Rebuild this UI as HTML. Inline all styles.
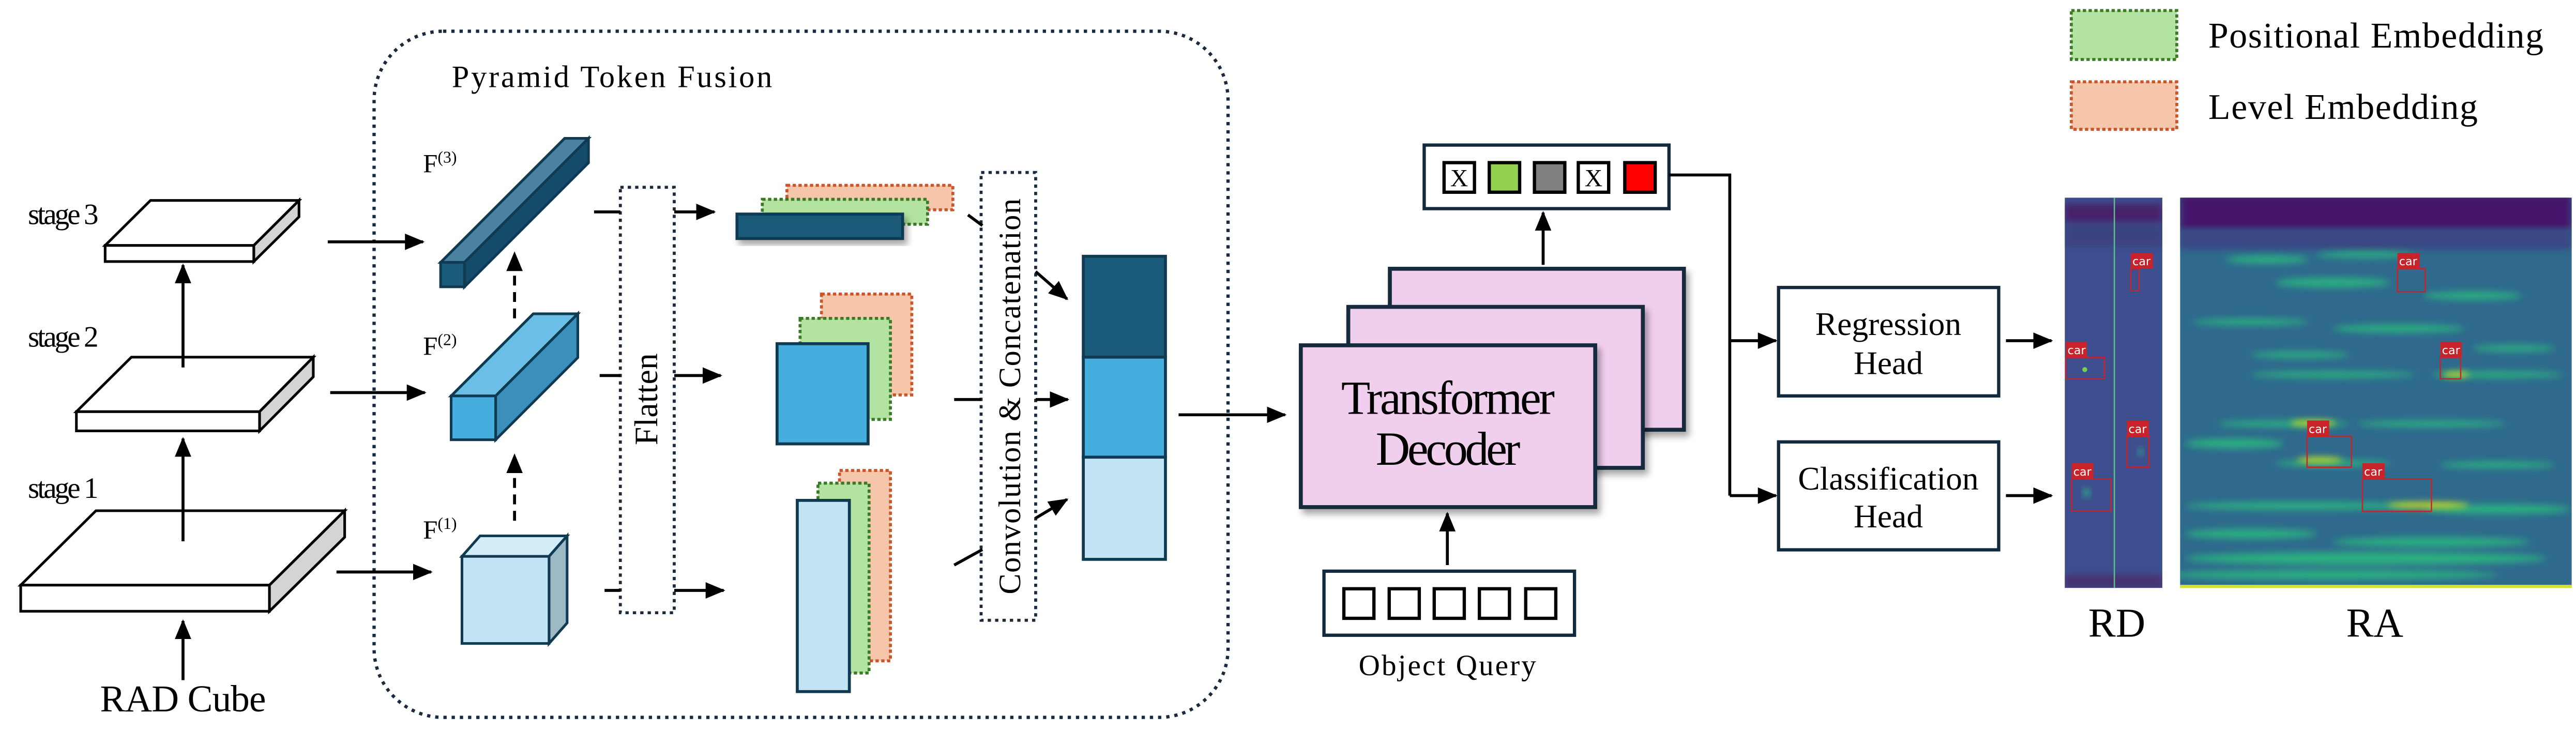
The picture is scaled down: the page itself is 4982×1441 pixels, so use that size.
<!DOCTYPE html>
<html><head><meta charset="utf-8"><style>
html,body{margin:0;padding:0;background:#fff;}
svg{display:block;}
</style></head><body>
<svg width="4982" height="1441" viewBox="0 0 1568 453.5" xmlns="http://www.w3.org/2000/svg" font-family="Liberation Serif, DejaVu Serif, serif">
<defs>
<marker id="ah" markerUnits="userSpaceOnUse" markerWidth="12" markerHeight="10" refX="11" refY="5" orient="auto">
<path d="M0,0 L12,5 L0,10 Z" fill="#000"/></marker>
<filter id="sh" x="-20%" y="-20%" width="150%" height="150%"><feDropShadow dx="2" dy="3" stdDeviation="2" flood-color="#000" flood-opacity="0.35"/></filter>
<filter id="bl" x="-20%" y="-50%" width="140%" height="200%"><feGaussianBlur stdDeviation="2"/></filter>
<clipPath id="raC"><rect x="1327" y="120.3" width="238.4" height="237.6"/></clipPath>
<clipPath id="rdC"><rect x="1256.8" y="120.3" width="59.4" height="237.6"/></clipPath>
</defs>

<rect x="227.7" y="19" width="519.8" height="417.7" rx="42" fill="none" stroke="#1a2a3a" stroke-width="2" stroke-dasharray="2,3"/>
<text x="275" y="53" font-size="19" textLength="195" font-family="Liberation Serif, DejaVu Serif, serif">Pyramid Token Fusion</text>

<g stroke="#000" stroke-width="1.6">
<polygon points="91.6,122 182,122 154.5,149.4 64,149.4" fill="#fff"/>
<rect x="64" y="149.4" width="90.5" height="9.8" fill="#fff"/>
<polygon points="154.5,149.4 182,122 182,132 154.5,159.2" fill="#d4d4d4"/>
<polygon points="80,217.4 190.7,217.4 158,250.6 46.5,250.6" fill="#fff"/>
<rect x="46.5" y="250.6" width="111.5" height="11.7" fill="#fff"/>
<polygon points="158,250.6 190.7,217.4 190.7,229.4 158,262.3" fill="#d4d4d4"/>
<polygon points="58.4,310.9 209.8,310.9 164,356.2 12.6,356.2" fill="#fff"/>
<rect x="12.6" y="356.2" width="151.4" height="15.9" fill="#fff"/>
<polygon points="164,356.2 209.8,310.9 209.8,327 164,372.1" fill="#d4d4d4"/>
</g>
<g font-family="Liberation Serif, DejaVu Serif, serif">
<text x="17" y="136.5" font-size="18" textLength="43">stage 3</text>
<text x="17" y="211" font-size="18" textLength="43">stage 2</text>
<text x="17" y="303" font-size="18" textLength="43">stage 1</text>
<text x="111.4" y="433" font-size="23" text-anchor="middle" textLength="101">RAD Cube</text>
</g>

<g stroke="#000" stroke-width="1.8" marker-end="url(#ah)" fill="none">
<line x1="111.4" y1="329.5" x2="111.4" y2="267"/>
<line x1="111.4" y1="223.7" x2="111.4" y2="161.4"/>
<line x1="111.4" y1="414" x2="111.4" y2="378"/>
<line x1="199.5" y1="147.2" x2="257.5" y2="147.2"/>
<line x1="201" y1="239" x2="258.6" y2="239"/>
<line x1="204.8" y1="348.2" x2="262.4" y2="348.2"/>
</g>

<g stroke="#0f3a52" stroke-width="1.6">
<polygon points="268.2,159.7 282.7,159.7 358.2,84.2 343.7,84.2" fill="#4a829f"/>
<polygon points="282.7,159.7 358.2,84.2 358.2,99.1 282.7,174.6" fill="#134c6a"/>
<rect x="268.2" y="159.7" width="14.5" height="14.9" fill="#1a5a7a"/>
<polygon points="274.6,241 301.7,241 351.7,191 324.6,191" fill="#6bbfe6"/>
<polygon points="301.7,241 351.7,191 351.7,217.7 301.7,267.7" fill="#3a8fbb"/>
<rect x="274.6" y="241" width="27.1" height="26.7" fill="#45aede"/>
<polygon points="281.2,338.7 334.2,338.7 345.2,326.2 292.2,326.2" fill="#d2ecf8"/>
<polygon points="334.2,338.7 345.2,326.2 345.2,379.2 334.2,391.7" fill="#9db9c6"/>
<rect x="281.2" y="338.7" width="53" height="53" fill="#c3e4f4"/>
</g>
<g font-family="Liberation Serif, DejaVu Serif, serif">
<text x="257.5" y="105" font-size="16">F<tspan font-size="10" dy="-6">(3)</tspan></text>
<text x="257.5" y="216" font-size="16">F<tspan font-size="10" dy="-6">(2)</tspan></text>
<text x="257.5" y="328" font-size="16">F<tspan font-size="10" dy="-6">(1)</tspan></text>
</g>
<g stroke="#000" stroke-width="1.8" stroke-dasharray="6,4" marker-end="url(#ah)" fill="none">
<line x1="313.2" y1="317" x2="313.2" y2="277"/>
<line x1="313.2" y1="193.8" x2="313.2" y2="154"/>
</g>

<rect x="377.6" y="114" width="32.8" height="259" fill="#fff" stroke="#1a2a3a" stroke-width="1.8" stroke-dasharray="2,2.5"/>
<text transform="translate(400,243) rotate(-90)" font-size="20" text-anchor="middle" textLength="56" font-family="Liberation Serif, DejaVu Serif, serif">Flatten</text>
<g stroke="#000" stroke-width="1.8" fill="none">
<line x1="361.6" y1="129" x2="377.6" y2="129"/>
<line x1="365" y1="228.6" x2="377.6" y2="228.6"/>
<line x1="368" y1="359.4" x2="377.6" y2="359.4"/>
<line x1="410.4" y1="129" x2="434.8" y2="129" marker-end="url(#ah)"/>
<line x1="410.4" y1="228.6" x2="438.7" y2="228.6" marker-end="url(#ah)"/>
<line x1="410.4" y1="359.4" x2="440.5" y2="359.4" marker-end="url(#ah)"/>
</g>

<g stroke-width="1.8" stroke-dasharray="2,1.5">
<rect x="479" y="112.8" width="101" height="14.9" fill="#f5c6aa" stroke="#c8562a"/>
<rect x="464" y="121.3" width="100.6" height="15.2" fill="#b3e3a0" stroke="#3a7a26"/>
<rect x="500" y="179" width="55" height="61.4" fill="#f5c6aa" stroke="#c8562a"/>
<rect x="487" y="193.8" width="55" height="61.5" fill="#b3e3a0" stroke="#3a7a26"/>
<rect x="511" y="286.4" width="31" height="115.9" fill="#f5c6aa" stroke="#c8562a"/>
<rect x="497.9" y="294.1" width="31.1" height="115.6" fill="#b3e3a0" stroke="#3a7a26"/>
</g>
<g stroke="#0f3a52" stroke-width="1.8">
<rect x="448.6" y="130.3" width="100.8" height="14.9" fill="#1a5a7a" filter="url(#sh)"/>
<rect x="473" y="209.2" width="55.4" height="61" fill="#45aede"/>
<rect x="485.3" y="304.6" width="31.7" height="116.4" fill="#c3e4f4"/>
</g>

<rect x="597.2" y="105" width="33.2" height="272.6" fill="#fff" stroke="#1a2a3a" stroke-width="1.8" stroke-dasharray="2,2.5"/>
<text transform="translate(621,241.3) rotate(-90)" font-size="19" text-anchor="middle" textLength="241" lengthAdjust="spacing" font-family="Liberation Serif, DejaVu Serif, serif">Convolution &amp; Concatenation</text>
<g stroke="#000" stroke-width="1.8" fill="none">
<line x1="589.2" y1="130.8" x2="598" y2="137.3"/>
<line x1="630.4" y1="165.3" x2="649.5" y2="182" marker-end="url(#ah)"/>
<line x1="580.8" y1="243.2" x2="597.2" y2="243.2"/>
<line x1="630.4" y1="243.2" x2="650" y2="243.2" marker-end="url(#ah)"/>
<line x1="580.8" y1="344" x2="598" y2="334.5"/>
<line x1="630.4" y1="315.4" x2="649.5" y2="304" marker-end="url(#ah)"/>
</g>
<g stroke="#0f3a52" stroke-width="1.8">
<rect x="659.4" y="156" width="50" height="61.4" fill="#1a5a7a"/>
<rect x="659.4" y="217.4" width="50" height="60.9" fill="#45aede"/>
<rect x="659.4" y="278.3" width="50" height="62.2" fill="#c3e4f4"/>
</g>
<line x1="717.4" y1="252.5" x2="782.2" y2="252.5" stroke="#000" stroke-width="1.8" marker-end="url(#ah)"/>

<g stroke="#13293d" stroke-width="2.4" fill="#f0cfee">
<rect x="846" y="163.6" width="179" height="98" filter="url(#sh)"/>
<rect x="820.7" y="186.8" width="179.3" height="98" filter="url(#sh)"/>
<rect x="791.8" y="210.2" width="179.2" height="98.5" filter="url(#sh)"/>
</g>
<g font-family="Liberation Serif, DejaVu Serif, serif">
<text x="881.4" y="252" font-size="29" text-anchor="middle" textLength="130">Transformer</text>
<text x="881.4" y="283" font-size="29" text-anchor="middle" textLength="88">Decoder</text>
</g>
<line x1="939.3" y1="161.2" x2="939.3" y2="129.4" stroke="#000" stroke-width="1.8" marker-end="url(#ah)"/>
<line x1="881" y1="344" x2="881" y2="312.5" stroke="#000" stroke-width="1.8" marker-end="url(#ah)"/>

<rect x="866.9" y="88.3" width="149" height="38.7" fill="#fff" stroke="#13293d" stroke-width="2"/>
<g stroke="#000" stroke-width="2">
<rect x="879" y="99" width="18.5" height="18" fill="#fff"/>
<rect x="906.5" y="99" width="18.5" height="18" fill="#92d050"/>
<rect x="934" y="99" width="18.5" height="18" fill="#808080"/>
<rect x="960.7" y="99" width="18.5" height="18" fill="#fff"/>
<rect x="989" y="99" width="18.5" height="18" fill="#ff0000"/>
</g>
<g font-family="Liberation Serif, DejaVu Serif, serif">
<text x="888.2" y="113.5" font-size="15" text-anchor="middle">X</text>
<text x="970" y="113.5" font-size="15" text-anchor="middle">X</text>
</g>

<rect x="805.9" y="347.7" width="152.5" height="39" fill="#fff" stroke="#13293d" stroke-width="2"/>
<g stroke="#000" stroke-width="2" fill="#fff">
<rect x="818" y="358.4" width="18.3" height="18"/>
<rect x="845.6" y="358.4" width="18.3" height="18"/>
<rect x="873" y="358.4" width="18.3" height="18"/>
<rect x="900.5" y="358.4" width="18.3" height="18"/>
<rect x="928.7" y="358.4" width="18.3" height="18"/>
</g>
<text x="881" y="411" font-size="18" text-anchor="middle" textLength="108" font-family="Liberation Serif, DejaVu Serif, serif">Object Query</text>

<polyline points="1015.9,106.5 1052.9,106.5 1052.9,301.7" fill="none" stroke="#000" stroke-width="1.8"/>
<g stroke="#000" stroke-width="1.8" marker-end="url(#ah)">
<line x1="1052.9" y1="207.4" x2="1081" y2="207.4"/>
<line x1="1052.9" y1="301.7" x2="1081" y2="301.7"/>
<line x1="1221" y1="207.4" x2="1248.7" y2="207.4"/>
<line x1="1221" y1="301.7" x2="1248.7" y2="301.7"/>
</g>
<g fill="#fff" stroke="#13293d" stroke-width="2">
<rect x="1082.6" y="175" width="134" height="66"/>
<rect x="1082.6" y="269" width="134" height="65.7"/>
</g>
<g font-family="Liberation Serif, DejaVu Serif, serif">
<text x="1149.4" y="204" font-size="20" text-anchor="middle">Regression</text>
<text x="1149.4" y="227.7" font-size="20" text-anchor="middle">Head</text>
<text x="1149.4" y="298" font-size="20" text-anchor="middle">Classification</text>
<text x="1149.4" y="321" font-size="20" text-anchor="middle">Head</text>
</g>

<rect x="1260.8" y="6.4" width="64.2" height="29.8" fill="#b3e3a0" stroke="#3a7a26" stroke-width="1.8" stroke-dasharray="2,1.5"/>
<rect x="1260.8" y="49.8" width="64.2" height="28.9" fill="#f5c6aa" stroke="#c8562a" stroke-width="1.8" stroke-dasharray="2,1.5"/>
<g font-family="Liberation Serif, DejaVu Serif, serif">
<text x="1344.2" y="29" font-size="22" textLength="204">Positional Embedding</text>
<text x="1344.2" y="72.3" font-size="22" textLength="164">Level Embedding</text>
</g>

<g clip-path="url(#rdC)">
<rect x="1256.8" y="120.3" width="59.4" height="237.6" fill="#3d4f8e"/>
<rect x="1256.8" y="124" width="59.4" height="12" fill="#46246a" filter="url(#bl)"/>
<rect x="1256.8" y="136" width="59.4" height="14" fill="#3a437f" filter="url(#bl)"/>
<rect x="1256.8" y="350" width="59.4" height="8" fill="#46306f" filter="url(#bl)"/>
<line x1="1287" y1="120" x2="1287" y2="358" stroke="#5fbf8a" stroke-width="0.8"/>
<circle cx="1269" cy="225" r="1.5" fill="#7ad151"/>
<circle cx="1270" cy="300" r="2.5" fill="#2fa585" filter="url(#bl)"/>
<circle cx="1303" cy="275" r="2" fill="#2fa585" filter="url(#bl)"/>
</g>
<g clip-path="url(#raC)">
<rect x="1327" y="120.3" width="238.4" height="237.6" fill="#2f6a8d"/>
<rect x="1327" y="118" width="238.4" height="22" fill="#45156a" filter="url(#bl)"/>
<rect x="1327" y="140" width="238.4" height="12" fill="#3a4684" filter="url(#bl)"/>
<g filter="url(#bl)" fill="#2aae80">
<ellipse cx="1380" cy="158" rx="25" ry="2.5"/>
<ellipse cx="1440" cy="155" rx="30" ry="2"/>
<ellipse cx="1420" cy="172" rx="35" ry="3"/>
<ellipse cx="1505" cy="180" rx="30" ry="2.5"/>
<ellipse cx="1370" cy="196" rx="35" ry="2"/>
<ellipse cx="1460" cy="200" rx="40" ry="2.5"/>
<ellipse cx="1400" cy="216" rx="30" ry="2"/>
<ellipse cx="1530" cy="212" rx="25" ry="2"/>
<ellipse cx="1420" cy="228" rx="50" ry="2"/>
<ellipse cx="1520" cy="228" rx="40" ry="2"/>
<ellipse cx="1390" cy="258" rx="40" ry="2"/>
<ellipse cx="1480" cy="258" rx="45" ry="2"/>
<ellipse cx="1360" cy="270" rx="30" ry="3"/>
<ellipse cx="1420" cy="282" rx="35" ry="2"/>
<ellipse cx="1520" cy="283" rx="35" ry="2"/>
<ellipse cx="1400" cy="308" rx="70" ry="2.5"/>
<ellipse cx="1520" cy="310" rx="45" ry="3"/>
<ellipse cx="1370" cy="325" rx="40" ry="3"/>
<ellipse cx="1480" cy="330" rx="60" ry="3"/>
<ellipse cx="1440" cy="340" rx="110" ry="4"/>
<ellipse cx="1420" cy="350" rx="100" ry="3"/>
</g>
<g filter="url(#bl)" fill="#d0e11c">
<ellipse cx="1478" cy="307.5" rx="25" ry="1.8"/>
<ellipse cx="1408" cy="257.5" rx="14" ry="1.6"/>
<ellipse cx="1412" cy="280" rx="14" ry="1.6"/>
<ellipse cx="1495" cy="228" rx="8" ry="1.5"/>
</g>
<rect x="1327" y="356" width="238.4" height="2" fill="#d4e033"/>
</g>
<g fill="none" stroke="#c8222a" stroke-width="0.8">
<rect x="1297" y="163.5" width="5" height="13.5"/>
<rect x="1257.5" y="217.6" width="23.5" height="13"/>
<rect x="1294.6" y="265.6" width="13.4" height="18.8"/>
<rect x="1261" y="291.6" width="24" height="19.4"/>
<rect x="1459.3" y="163.5" width="16.9" height="14.1"/>
<rect x="1485.4" y="217.6" width="12.4" height="13"/>
<rect x="1404.3" y="265.6" width="27" height="18.8"/>
<rect x="1438" y="291.6" width="42" height="19.7"/>
</g>
<g fill="#c8222a">
<rect x="1297" y="154" width="13.5" height="9.5"/>
<rect x="1257.5" y="208" width="12.8" height="9.6"/>
<rect x="1294.6" y="256" width="13.4" height="9.6"/>
<rect x="1261" y="282" width="13.3" height="9.6"/>
<rect x="1459.3" y="154" width="13.5" height="9.5"/>
<rect x="1485.4" y="208" width="13.1" height="9.6"/>
<rect x="1404.3" y="256" width="13.5" height="9.6"/>
<rect x="1438" y="282" width="13.6" height="9.6"/>
</g>
<g font-family="DejaVu Sans, sans-serif" font-size="7" fill="#fff">
<text x="1298" y="161.5">car</text>
<text x="1258.5" y="215.5">car</text>
<text x="1295.6" y="263.5">car</text>
<text x="1262" y="289.5">car</text>
<text x="1460.3" y="161.5">car</text>
<text x="1486.4" y="215.5">car</text>
<text x="1405.3" y="263.5">car</text>
<text x="1439" y="289.5">car</text>
</g>
<g font-family="Liberation Serif, DejaVu Serif, serif">
<text x="1288.5" y="387.6" font-size="25" text-anchor="middle">RD</text>
<text x="1445.5" y="387.6" font-size="25" text-anchor="middle">RA</text>
</g>
</svg>
</body></html>
